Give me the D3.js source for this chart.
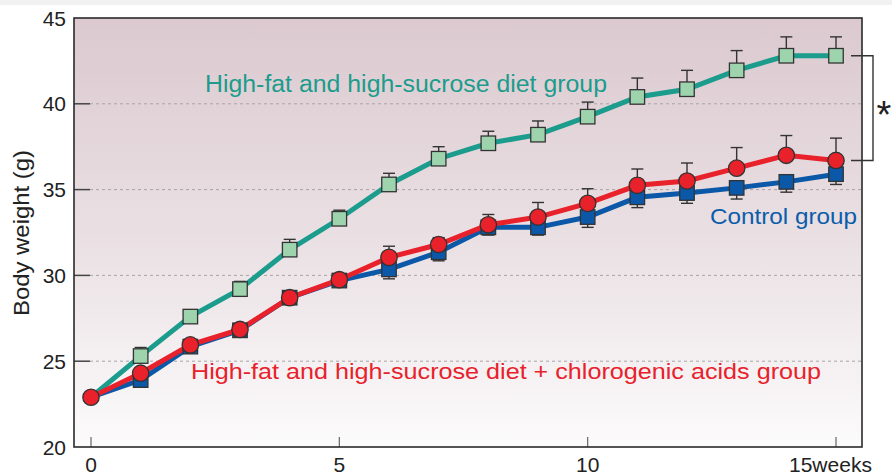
<!DOCTYPE html>
<html><head><meta charset="utf-8">
<script src="https://cdn.jsdelivr.net/npm/d3@7"></script>
<style>html,body{margin:0;padding:0;background:#fff;}svg{display:block;font-family:"Liberation Sans",Arial,sans-serif;}</style>
</head><body><svg id="c" width="892" height="475"></svg>
<script>
const weeks = [0,1,2,3,4,5,6,7,8,9,10,11,12,13,14,15];
const hfhs = [22.9,25.3,27.6,29.2,31.5,33.3,35.3,36.8,37.7,38.2,39.25,40.4,40.85,41.95,42.8,42.8];
const hfhsErr = [0,0.5,0.4,0.45,0.6,0.5,0.65,0.7,0.7,0.8,0.85,1.1,1.1,1.15,1.1,1.1];
const cga = [22.9,24.3,25.95,26.85,28.7,29.75,31.05,31.8,32.95,33.4,34.2,35.25,35.5,36.25,37.0,36.7];
const cgaErr = [0,0.2,0.2,0.2,0.2,0.3,0.65,0.4,0.6,0.85,0.85,0.95,1.05,1.2,1.15,1.3];
const control = [22.9,23.9,25.85,26.8,28.7,29.7,30.35,31.35,32.8,32.8,33.4,34.55,34.8,35.1,35.45,35.9];
const controlErr = [0,0.2,0.2,0.2,0.2,0.2,0.55,0.5,0.45,0.45,0.6,0.6,0.6,0.65,0.6,0.6];
const yTicks = [20,25,30,35,40,45];
const xTicks = [0,5,10,15];
const xTickLabels = ["0","5","10","15weeks"];
const labels = {
  hfhs: "High-fat and high-sucrose diet group",
  cga: "High-fat and high-sucrose diet + chlorogenic acids group",
  control: "Control group",
  yAxis: "Body weight (g)",
  sig: "*"
};

const svg = d3.select("#c");
const x = d3.scaleLinear().domain([0,15]).range([91,836]);
const y = d3.scaleLinear().domain([20,45]).range([447,18]);
const L = 74, R = 862, T = 18, B = 447;

svg.append("rect").attr("x",0).attr("y",0).attr("width",892).attr("height",5).attr("fill","#f1f1f1");

const defs = svg.append("defs");
const g = defs.append("linearGradient").attr("id","bg").attr("x1",0).attr("y1",0).attr("x2",0).attr("y2",1);
g.append("stop").attr("offset","0%").attr("stop-color","#dbc9cf");
g.append("stop").attr("offset","55%").attr("stop-color","#ebe2e5");
g.append("stop").attr("offset","100%").attr("stop-color","#fcfbfb");
svg.append("rect").attr("x",L).attr("y",T).attr("width",R-L).attr("height",B-T).attr("fill","url(#bg)");

yTicks.filter(v=>v>20 && v<45).forEach(v=>{
  svg.append("line").attr("x1",90).attr("x2",R).attr("y1",y(v)).attr("y2",y(v))
    .attr("stroke","#a8a3a5").attr("stroke-width",1).attr("stroke-dasharray","3,3");
  svg.append("line").attr("x1",L).attr("x2",90).attr("y1",y(v)).attr("y2",y(v))
    .attr("stroke","#444").attr("stroke-width",1.5);
});
xTicks.forEach(v=>{
  svg.append("line").attr("x1",x(v)).attr("x2",x(v)).attr("y1",B).attr("y2",B-10)
    .attr("stroke","#666").attr("stroke-width",1.2);
});
svg.append("rect").attr("x",L).attr("y",T).attr("width",R-L).attr("height",B-T)
  .attr("fill","none").attr("stroke","#2a2a2a").attr("stroke-width",1.6);

yTicks.forEach(v=>{
  svg.append("text").attr("x",66).attr("y",y(v)).attr("dy","0.36em").attr("text-anchor","end")
    .attr("font-size",21).attr("fill","#222").text(v);
});
xTicks.forEach((v,i)=>{
  const t = svg.append("text").attr("y",472).attr("font-size",21).attr("fill","#222").text(xTickLabels[i]);
  if (i===3) t.attr("x",x(v)-47).attr("text-anchor","start");
  else t.attr("x",x(v)).attr("text-anchor","middle");
});
svg.append("text").attr("transform","translate(29,316) rotate(-90)").attr("text-anchor","start")
  .attr("font-size",22).attr("fill","#222")
  .attr("textLength",166).attr("lengthAdjust","spacingAndGlyphs").text(labels.yAxis);

const line = d3.line().x((d,i)=>x(weeks[i])).y(d=>y(d));
const cGreen="#1b9c8c", cBlue="#0b58a8", cRed="#e8212b";

function errBars(vals, errs, dir){
  vals.forEach((v,i)=>{
    if(!errs[i]) return;
    const e = v + dir*errs[i];
    svg.append("line").attr("x1",x(weeks[i])).attr("x2",x(weeks[i])).attr("y1",y(v)).attr("y2",y(e))
      .attr("stroke","#333").attr("stroke-width",1.4);
    svg.append("line").attr("x1",x(weeks[i])-6).attr("x2",x(weeks[i])+6).attr("y1",y(e)).attr("y2",y(e))
      .attr("stroke","#333").attr("stroke-width",1.4);
  });
}
errBars(hfhs,hfhsErr,1);
errBars(control,controlErr,-1);
errBars(cga,cgaErr,1);

svg.append("path").datum(hfhs).attr("d",line).attr("fill","none").attr("stroke",cGreen).attr("stroke-width",5);
svg.append("path").datum(control).attr("d",line).attr("fill","none").attr("stroke",cBlue).attr("stroke-width",5);
svg.append("path").datum(cga).attr("d",line).attr("fill","none").attr("stroke",cRed).attr("stroke-width",5);

const s = 14.5;
svg.selectAll(".gsq").data(hfhs.slice(1)).enter().append("rect")
  .attr("x",(d,i)=>x(weeks[i+1])-s/2).attr("y",d=>y(d)-s/2).attr("width",s).attr("height",s)
  .attr("fill","#9dd4ae").attr("stroke","#333").attr("stroke-width",1.3);
svg.selectAll(".bsq").data(control.slice(1)).enter().append("rect")
  .attr("x",(d,i)=>x(weeks[i+1])-s/2).attr("y",d=>y(d)-s/2).attr("width",s).attr("height",s)
  .attr("fill",cBlue).attr("stroke","#333").attr("stroke-width",1.3);
svg.selectAll(".rc").data(cga).enter().append("circle")
  .attr("cx",(d,i)=>x(weeks[i])).attr("cy",d=>y(d)).attr("r",8.2)
  .attr("fill",cRed).attr("stroke","#333").attr("stroke-width",1.3);

const bx = 873, by1 = y(hfhs[15]), by2 = y(cga[15]);
svg.append("path").attr("d",`M851,${by1}H${bx}V${by2}H851`).attr("fill","none").attr("stroke","#333").attr("stroke-width",1.4);
svg.append("text").attr("x",884).attr("y",(by1+by2)/2+20).attr("text-anchor","middle")
  .attr("font-size",38).attr("fill","#222").text(labels.sig);

svg.append("text").attr("x",205).attr("y",92).attr("font-size",23).attr("fill",cGreen)
  .attr("textLength",402).attr("lengthAdjust","spacingAndGlyphs").text(labels.hfhs);
svg.append("text").attr("x",191).attr("y",379).attr("font-size",22).attr("fill",cRed)
  .attr("textLength",630).attr("lengthAdjust","spacingAndGlyphs").text(labels.cga);
svg.append("text").attr("x",710).attr("y",224).attr("font-size",22).attr("fill","#0b5cab")
  .attr("textLength",147).attr("lengthAdjust","spacingAndGlyphs").text(labels.control);
</script></body></html>
